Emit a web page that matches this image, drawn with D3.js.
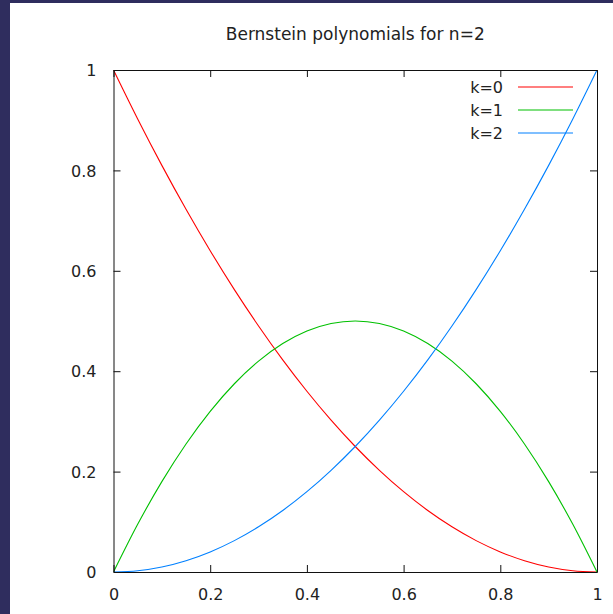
<!DOCTYPE html>
<html>
<head>
<meta charset="utf-8">
<script src="https://cdn.jsdelivr.net/npm/d3@7"></script>
<style>
html,body{margin:0;padding:0;background:#2f2d5e;}
svg{display:block;}
text{font-family:"DejaVu Sans",sans-serif;fill:#222;}
</style>
</head>
<body>
<script>
const title = "Bernstein polynomials for n=2";
const xs = [0,0.05,0.1,0.15,0.2,0.25,0.3,0.35,0.4,0.45,0.5,0.55,0.6,0.65,0.7,0.75,0.8,0.85,0.9,0.95,1];
const k0 = [1,0.9025,0.81,0.7225,0.64,0.5625,0.49,0.4225,0.36,0.3025,0.25,0.2025,0.16,0.1225,0.09,0.0625,0.04,0.0225,0.01,0.0025,0];
const k1 = [0,0.095,0.18,0.255,0.32,0.375,0.42,0.455,0.48,0.495,0.5,0.495,0.48,0.455,0.42,0.375,0.32,0.255,0.18,0.095,0];
const k2 = [0,0.0025,0.01,0.0225,0.04,0.0625,0.09,0.1225,0.16,0.2025,0.25,0.3025,0.36,0.4225,0.49,0.5625,0.64,0.7225,0.81,0.9025,1];
const seriesNames = ["k=0","k=1","k=2"];
const seriesColors = ["#ff0000","#00c000","#0080ff"];
const xTicks = [0,0.2,0.4,0.6,0.8,1];
const yTicks = [0,0.2,0.4,0.6,0.8,1];
const xTickLabels = ["0","0.2","0.4","0.6","0.8","1"];
const yTickLabels = ["0","0.2","0.4","0.6","0.8","1"];

const W = 613, H = 614;
const svg = d3.select("body").append("svg").attr("width", W).attr("height", H);
svg.append("rect").attr("x",0).attr("y",0).attr("width",W).attr("height",H).attr("fill","#2f2d5e");
svg.append("rect").attr("x",10).attr("y",3).attr("width",W-10).attr("height",H-3).attr("fill","#ffffff");

const L = 113.5, R = 597, T = 70, B = 572;
const x = d3.scaleLinear().domain([0,1]).range([L,R]);
const y = d3.scaleLinear().domain([0,1]).range([B,T]);

// title
svg.append("text").attr("x", (L+R)/2).attr("y", 40).attr("text-anchor","middle")
  .attr("font-size",17).attr("fill","#2a2a2a").text(title);

// curves
const series = [k0,k1,k2];
const line = d3.line().x((d,i)=>x(xs[i])).y(d=>y(d)).curve(d3.curveMonotoneX);
svg.append("clipPath").attr("id","pc").append("rect")
  .attr("x",L).attr("y",T).attr("width",R-L).attr("height",B-T);
series.forEach((s,i)=>{
  svg.append("path").datum(s).attr("d",line).attr("fill","none")
    .attr("stroke",seriesColors[i]).attr("stroke-width",1.1)
    .attr("clip-path","url(#pc)");
});

// axes (inward ticks, mirrored)
const tl = 7;
const axB = d3.axisBottom(x).tickValues(xTicks).tickSizeInner(-tl).tickSizeOuter(0).tickFormat((d,i)=>xTickLabels[i]);
const axT = d3.axisTop(x).tickValues(xTicks).tickSizeInner(-tl).tickSizeOuter(0).tickFormat("");
const axL = d3.axisLeft(y).tickValues(yTicks).tickSizeInner(-tl).tickSizeOuter(0).tickFormat((d,i)=>yTickLabels[i]);
const axR = d3.axisRight(y).tickValues(yTicks).tickSizeInner(-tl).tickSizeOuter(0).tickFormat("");

function style(g){
  g.selectAll("path").attr("stroke","#111").attr("stroke-width",1);
  g.selectAll("line").attr("stroke","#111").attr("stroke-width",1);
  g.selectAll("text").attr("font-family","DejaVu Sans").attr("font-size",16).attr("fill","#2a2a2a");
}
const gB = svg.append("g").attr("transform",`translate(0,${B})`).call(axB).call(style);
gB.selectAll("text").attr("dy",null).attr("y",28);
svg.append("g").attr("transform",`translate(0,${T})`).call(axT).call(style);
const gL = svg.append("g").attr("transform",`translate(${L},0)`).call(axL).call(style);
gL.selectAll("text").attr("x",-17).attr("dy","0.36em");
svg.append("g").attr("transform",`translate(${R},0)`).call(axR).call(style);
svg.selectAll(".domain").attr("fill","none");

// legend
const legY = [87,110,133];
seriesNames.forEach((n,i)=>{
  svg.append("text").attr("x",503).attr("y",legY[i]).attr("dy","0.36em")
    .attr("text-anchor","end").attr("font-size",16).attr("fill","#2a2a2a").text(n);
  svg.append("line").attr("x1",518).attr("x2",573).attr("y1",legY[i]).attr("y2",legY[i])
    .attr("stroke",seriesColors[i]).attr("stroke-width",1.1);
});
</script>
</body>
</html>
